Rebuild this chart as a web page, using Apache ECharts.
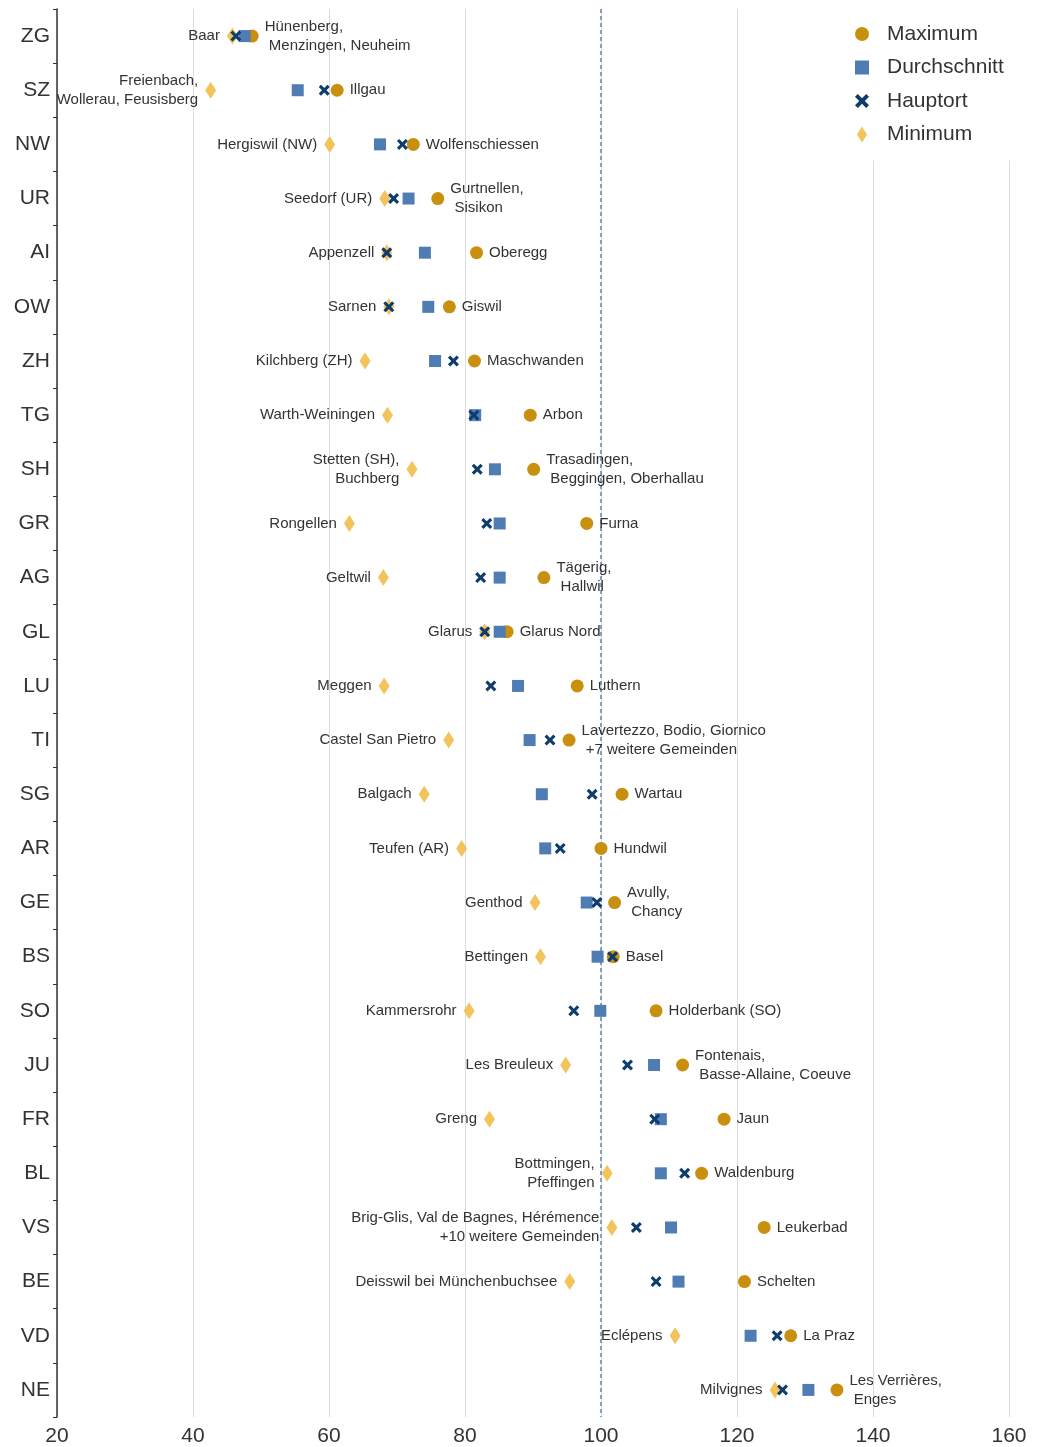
<!DOCTYPE html>
<html>
<head>
<meta charset="utf-8">
<script src="https://cdn.jsdelivr.net/npm/echarts@6/dist/echarts.min.js"></script>
<style>
  html, body { margin: 0; padding: 0; background: #fff; }
  #chart { width: 1043px; height: 1447px; }
</style>
</head>
<body>
<div id="chart"></div>
<script>
// Kantone, von oben nach unten
var cantons = ['ZG','SZ','NW','UR','AI','OW','ZH','TG','SH','GR','AG','GL','LU','TI','SG','AR','GE','BS','SO','JU','FR','BL','VS','BE','VD','NE'];

var maxValues = [48.7, 61.2, 72.4, 76.0, 81.7, 77.7, 81.4, 89.6, 90.1, 97.9, 91.6, 86.2, 96.5, 95.3, 103.1, 100.0, 102.0, 101.8, 108.1, 112.0, 118.1, 114.8, 124.0, 121.1, 127.9, 134.7];
var avgValues = [47.6, 55.4, 67.5, 71.7, 74.1, 74.6, 75.6, 81.5, 84.4, 85.1, 85.1, 85.1, 87.8, 89.5, 91.3, 91.8, 97.9, 99.5, 99.9, 107.8, 108.8, 108.8, 110.3, 111.4, 122.0, 130.5];
var capitalValues = [46.3, 59.3, 70.8, 69.5, 68.5, 68.8, 78.3, 81.3, 81.8, 83.2, 82.3, 82.9, 83.8, 92.5, 98.7, 94.0, 99.4, 101.7, 96.0, 103.9, 107.9, 112.3, 105.2, 108.1, 125.9, 126.7];
var minValues = [45.8, 42.6, 60.1, 68.2, 68.5, 68.8, 65.3, 68.6, 72.2, 63.0, 68.0, 82.9, 68.1, 77.6, 74.0, 79.5, 90.3, 91.1, 80.6, 94.8, 83.6, 100.9, 101.6, 95.4, 110.9, 125.6];

var maxNames = ['Hünenberg,\nMenzingen, Neuheim','Illgau','Wolfenschiessen','Gurtnellen,\nSisikon','Oberegg','Giswil','Maschwanden','Arbon','Trasadingen,\nBeggingen, Oberhallau','Furna','Tägerig,\nHallwil','Glarus Nord','Luthern','Lavertezzo, Bodio, Giornico\n+7 weitere Gemeinden','Wartau','Hundwil','Avully,\nChancy','Basel','Holderbank (SO)','Fontenais,\nBasse-Allaine, Coeuve','Jaun','Waldenburg','Leukerbad','Schelten','La Praz','Les Verrières,\nEnges'];
var minNames = ['Baar','Freienbach,\nWollerau, Feusisberg','Hergiswil (NW)','Seedorf (UR)','Appenzell','Sarnen','Kilchberg (ZH)','Warth-Weiningen','Stetten (SH),\nBuchberg','Rongellen','Geltwil','Glarus','Meggen','Castel San Pietro','Balgach','Teufen (AR)','Genthod','Bettingen','Kammersrohr','Les Breuleux','Greng','Bottmingen,\nPfeffingen','Brig-Glis, Val de Bagnes, Hérémence\n+10 weitere Gemeinden','Deisswil bei Münchenbuchsee','Eclépens','Milvignes'];

var xTicks = [20, 40, 60, 80, 100, 120, 140, 160];
var refLine = 100;

var FONT = '"Liberation Sans", Arial, sans-serif';
var crossPath = 'path://M0,2 L2,0 L5,3 L8,0 L10,2 L7,5 L10,8 L8,10 L5,7 L2,10 L0,8 L3,5 Z';
var diamondPath = 'path://M5,0 L10,8 L5,16 L0,8 Z';
var squarePath = 'path://M0,0 L10,0 L10,10 L0,10 Z';

function pairs(vals) {
  return cantons.map(function (c, i) { return [vals[i], c]; });
}

var chart = echarts.init(document.getElementById('chart'));

chart.setOption({
  animation: false,
  textStyle: { fontFamily: FONT },
  grid: { left: 57, right: 34, top: 9, bottom: 27, containLabel: false },
  legend: {
    orient: 'vertical',
    left: 843,
    top: 2,
    padding: [20, 24, 14, 12],
    backgroundColor: '#ffffff',
    itemWidth: 14,
    itemHeight: 16,
    itemGap: 9.5,
    data: [
      { name: 'Maximum', icon: 'circle' },
      { name: 'Durchschnitt', icon: squarePath },
      { name: 'Hauptort' },
      { name: 'Minimum' }
    ],
    textStyle: { fontSize: 21, color: '#333', lineHeight: 24, padding: [0, 0, 0, 13], fontFamily: FONT }
  },
  xAxis: {
    type: 'value',
    min: xTicks[0],
    max: xTicks[xTicks.length - 1],
    interval: 20,
    axisLine: { show: false },
    axisTick: { show: false },
    axisLabel: { fontSize: 21, color: '#333', margin: 9, fontFamily: FONT },
    splitLine: { show: true, lineStyle: { color: '#dddddd', width: 1 } }
  },
  yAxis: {
    type: 'category',
    data: cantons,
    inverse: true,
    axisLine: { show: true, lineStyle: { color: '#333', width: 1.5 } },
    axisTick: { show: true, length: 4, lineStyle: { color: '#333' } },
    axisLabel: { fontSize: 21, color: '#333', margin: 7, fontFamily: FONT },
    splitLine: { show: false }
  },
  series: [
    {
      name: 'Maximum',
      type: 'scatter',
      symbol: 'circle',
      symbolSize: 13,
      itemStyle: { color: '#c8900e', opacity: 1 },
      data: pairs(maxValues),
      label: {
        show: true,
        position: 'right',
        distance: 6,
        fontSize: 15,
        lineHeight: 19,
        color: '#333',
        fontFamily: FONT,
        formatter: function (p) { return maxNames[p.dataIndex].replace('\n', '\n '); }
      },
      emphasis: { disabled: true },
      markLine: {
        silent: true,
        symbol: 'none',
        z: 1,
        label: { show: false },
        lineStyle: { color: '#5b86b6', type: [4, 3], width: 1.5 },
        data: [{ xAxis: refLine }]
      }
    },
    {
      name: 'Minimum',
      type: 'scatter',
      symbol: diamondPath,
      symbolSize: [11, 17],
      itemStyle: { color: '#f3c45c', opacity: 1 },
      data: pairs(minValues),
      label: {
        show: true,
        position: 'left',
        distance: 7,
        fontSize: 15,
        lineHeight: 19,
        color: '#333',
        fontFamily: FONT,
        formatter: function (p) { return minNames[p.dataIndex]; }
      },
      emphasis: { disabled: true }
    },
    {
      name: 'Durchschnitt',
      type: 'scatter',
      symbol: 'rect',
      symbolSize: 12,
      itemStyle: { color: '#4f7db3', opacity: 1 },
      data: pairs(avgValues),
      emphasis: { disabled: true }
    },
    {
      name: 'Hauptort',
      type: 'scatter',
      symbol: crossPath,
      symbolSize: 11,
      itemStyle: { color: '#0e3c6c', opacity: 1 },
      data: pairs(capitalValues),
      emphasis: { disabled: true }
    }
  ]
});
</script>
</body>
</html>
